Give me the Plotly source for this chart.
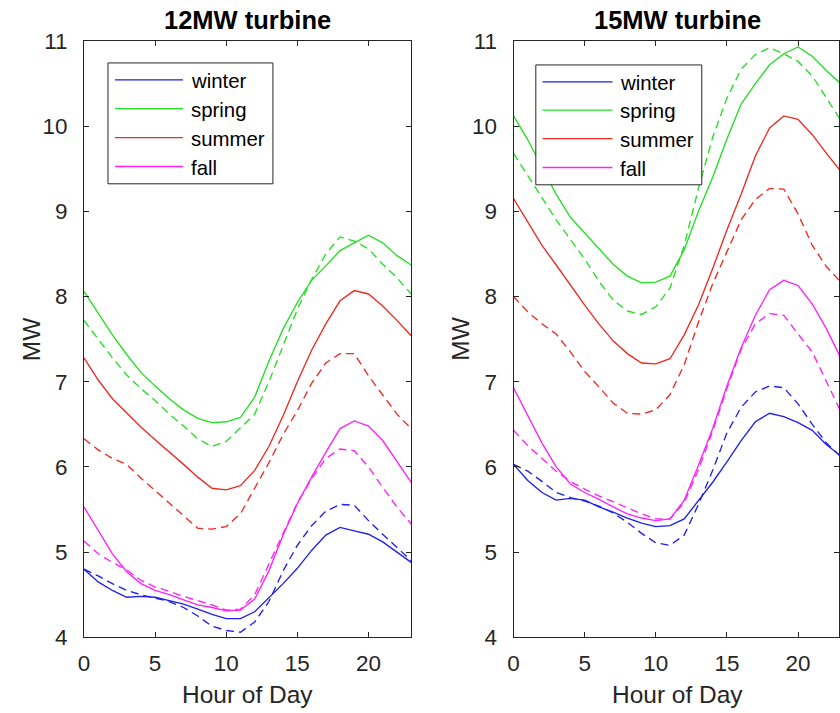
import plotly.graph_objects as go

hours = list(range(24))
seasons = ["winter", "spring", "summer", "fall"]
colors = ["#1f1fee", "#22e022", "#ee2a22", "#ff22ff"]
titles = ["12MW turbine", "15MW turbine"]
x_ticks = [0, 5, 10, 15, 20]
y_ticks = [4, 5, 6, 7, 8, 9, 10, 11]

# 12MW turbine, solid lines
w12_solid = [4.80, 4.65, 4.55, 4.47, 4.48, 4.47, 4.43, 4.39, 4.33, 4.27, 4.22, 4.22,
             4.30, 4.46, 4.63, 4.81, 5.02, 5.20, 5.29, 5.25, 5.21, 5.12, 5.00, 4.88]
sp12_solid = [8.06, 7.80, 7.55, 7.32, 7.11, 6.95, 6.80, 6.67, 6.57, 6.52, 6.53, 6.58,
              6.82, 7.24, 7.62, 7.93, 8.19, 8.36, 8.54, 8.63, 8.72, 8.63, 8.48, 8.37]
su12_solid = [7.28, 7.02, 6.80, 6.63, 6.47, 6.32, 6.18, 6.03, 5.88, 5.75, 5.73, 5.78,
              5.96, 6.24, 6.60, 7.00, 7.37, 7.68, 7.95, 8.07, 8.03, 7.89, 7.72, 7.54]
fa12_solid = [5.53, 5.25, 4.98, 4.77, 4.63, 4.55, 4.50, 4.44, 4.38, 4.35, 4.31, 4.32,
              4.45, 4.78, 5.20, 5.57, 5.88, 6.17, 6.45, 6.54, 6.48, 6.31, 6.06, 5.82]
# 12MW turbine, dashed lines
w12_dash = [4.80, 4.72, 4.63, 4.55, 4.50, 4.46, 4.42, 4.35, 4.25, 4.13, 4.08, 4.06,
            4.18, 4.42, 4.78, 5.08, 5.31, 5.48, 5.56, 5.55, 5.37, 5.21, 5.05, 4.90]
sp12_dash = [7.72, 7.50, 7.28, 7.08, 6.92, 6.78, 6.62, 6.48, 6.33, 6.24, 6.30, 6.46,
             6.62, 7.00, 7.42, 7.85, 8.20, 8.50, 8.70, 8.65, 8.56, 8.38, 8.22, 8.03]
su12_dash = [6.33, 6.20, 6.10, 6.03, 5.87, 5.72, 5.57, 5.42, 5.28, 5.27, 5.30, 5.45,
             5.75, 6.05, 6.38, 6.66, 6.98, 7.22, 7.33, 7.33, 7.07, 6.85, 6.62, 6.45]
fa12_dash = [5.13, 4.98, 4.88, 4.79, 4.67, 4.59, 4.54, 4.48, 4.43, 4.38, 4.32, 4.33,
             4.50, 4.85, 5.22, 5.58, 5.86, 6.10, 6.21, 6.19, 6.00, 5.76, 5.53, 5.33]

# 15MW turbine, solid lines
w15_solid = [6.03, 5.84, 5.70, 5.61, 5.63, 5.61, 5.53, 5.47, 5.40, 5.34, 5.30, 5.31,
             5.39, 5.60, 5.82, 6.06, 6.31, 6.53, 6.63, 6.59, 6.52, 6.43, 6.26, 6.13]
sp15_solid = [10.12, 9.84, 9.52, 9.20, 8.93, 8.75, 8.56, 8.38, 8.24, 8.16, 8.17, 8.24,
              8.55, 9.00, 9.40, 9.85, 10.26, 10.50, 10.72, 10.85, 10.93, 10.82, 10.65, 10.50]
su15_solid = [9.15, 8.87, 8.60, 8.37, 8.13, 7.90, 7.68, 7.48, 7.33, 7.22, 7.21, 7.27,
              7.55, 7.90, 8.33, 8.78, 9.20, 9.65, 9.98, 10.12, 10.08, 9.90, 9.68, 9.47]
fa15_solid = [6.93, 6.60, 6.28, 6.00, 5.80, 5.70, 5.62, 5.53, 5.45, 5.40, 5.37, 5.39,
              5.61, 6.02, 6.45, 6.95, 7.40, 7.78, 8.08, 8.19, 8.13, 7.91, 7.62, 7.28]
# 15MW turbine, dashed lines
w15_dash = [6.03, 5.95, 5.83, 5.70, 5.64, 5.60, 5.54, 5.46, 5.35, 5.22, 5.11, 5.08,
            5.20, 5.56, 5.96, 6.40, 6.70, 6.88, 6.95, 6.93, 6.74, 6.50, 6.28, 6.12]
sp15_dash = [9.68, 9.42, 9.15, 8.90, 8.67, 8.44, 8.18, 7.96, 7.83, 7.79, 7.88, 8.10,
             8.60, 9.27, 9.87, 10.33, 10.67, 10.84, 10.92, 10.85, 10.76, 10.59, 10.33, 10.07]
su15_dash = [8.00, 7.82, 7.68, 7.56, 7.35, 7.12, 6.94, 6.75, 6.63, 6.62, 6.67, 6.85,
             7.20, 7.70, 8.15, 8.52, 8.90, 9.14, 9.27, 9.26, 8.97, 8.60, 8.35, 8.17]
fa15_dash = [6.43, 6.25, 6.10, 5.95, 5.83, 5.74, 5.66, 5.59, 5.52, 5.45, 5.39, 5.39,
             5.58, 5.97, 6.42, 6.92, 7.38, 7.68, 7.80, 7.78, 7.56, 7.35, 7.00, 6.65]

panels = [
    ([w12_solid, sp12_solid, su12_solid, fa12_solid], [w12_dash, sp12_dash, su12_dash, fa12_dash]),
    ([w15_solid, sp15_solid, su15_solid, fa15_solid], [w15_dash, sp15_dash, su15_dash, fa15_dash]),
]

W, H = 840, 713
# the photographed page comes out slightly shrunk; map target screen pixels to figure pixels
SX_OFF, SX_K = 5.0, 0.992
SY_OFF, SY_K = 11.0, 0.966
def fx(sx):
    return min(1.0, ((sx - SX_OFF) / SX_K) / W)
def fy(sy):
    return 1 - ((sy - SY_OFF) / SY_K) / H
FS = 1 / 0.98  # font compensation

FONT = "Liberation Sans, Arial, Helvetica, sans-serif"
INK = "#262626"

fig = go.Figure()
axis_names = [("x", "y"), ("x2", "y2")]
for p, (solids, dashes) in enumerate(panels):
    xa, ya = axis_names[p]
    for s in range(4):
        fig.add_trace(go.Scatter(x=hours, y=solids[s], mode="lines", xaxis=xa, yaxis=ya,
                                 line=dict(color=colors[s], width=1.35), showlegend=False,
                                 name=seasons[s]))
    for s in range(4):
        fig.add_trace(go.Scatter(x=hours, y=dashes[s], mode="lines", xaxis=xa, yaxis=ya,
                                 line=dict(color=colors[s], width=1.35, dash="8px,5px"),
                                 showlegend=False, name=seasons[s]))

# target screen geometry of the two axes boxes
boxes = [(83, 410.3), (512.7, 840)]
top, bottom = 40, 637

def x_range(sx0, sx1):
    # keep the same px-per-hour even if the box is cut by the page edge
    full = (sx1 - SX_OFF) / SX_K / W
    start = fx(sx0)
    end = fx(sx1)
    return [0, 23 * (end - start) / (full - start)]

common_x = dict(tickvals=x_ticks, ticks="inside", ticklen=5, mirror="ticks",
                showline=True, linecolor=INK, linewidth=1, tickcolor=INK, showgrid=False,
                zeroline=False, tickfont=dict(family=FONT, size=22 * FS, color=INK),
                ticklabelstandoff=6)
common_y = dict(range=[4, 11], tickvals=y_ticks, ticks="inside", ticklen=5, mirror="ticks",
                showline=True, linecolor=INK, linewidth=1, tickcolor=INK, showgrid=False,
                zeroline=False, tickfont=dict(family=FONT, size=22 * FS, color=INK),
                ticklabelstandoff=11)

fig.update_layout(
    width=W, height=H, margin=dict(l=0, r=0, t=0, b=0),
    paper_bgcolor="white", plot_bgcolor="white", showlegend=False,
    xaxis=dict(domain=[fx(boxes[0][0]), fx(boxes[0][1])], range=x_range(*boxes[0]), anchor="y", **common_x),
    yaxis=dict(domain=[fy(bottom), fy(top)], anchor="x", **common_y),
    xaxis2=dict(domain=[fx(boxes[1][0]), fx(boxes[1][1])], range=x_range(*boxes[1]), anchor="y2", **common_x),
    yaxis2=dict(domain=[fy(bottom), fy(top)], anchor="x2", **common_y),
)

annotations = []
shapes = []
for p in range(2):
    x0, x1 = boxes[p]
    cx = (x0 + 23 * 14.23 / 2) if p == 1 else (x0 + x1) / 2
    annotations.append(dict(text="<b>" + titles[p] + "</b>", x=fx(cx), y=fy(19.5), xref="paper", yref="paper",
                            showarrow=False, xanchor="center", yanchor="middle",
                            font=dict(family=FONT, size=25 * FS, color="black")))
    annotations.append(dict(text="Hour of Day", x=fx(cx), y=fy(694), xref="paper", yref="paper",
                            showarrow=False, xanchor="center", yanchor="middle",
                            font=dict(family=FONT, size=24 * FS, color=INK)))
    annotations.append(dict(text="MW", x=fx(x0 - 53), y=fy((top + bottom) / 2), xref="paper", yref="paper",
                            showarrow=False, xanchor="center", yanchor="middle", textangle=-90,
                            font=dict(family=FONT, size=24 * FS, color=INK)))

# legends (drawn as boxes, sample lines and text)
legend_boxes = [
    dict(box=(107, 62, 272, 183), line=(114, 182), text_x=188, rows=[79, 107.7, 136.7, 165.7]),
    dict(box=(535, 64, 701, 184), line=(541.7, 611.7), text_x=617.3, rows=[81, 109.3, 137.7, 166.7]),
]
for lg in legend_boxes:
    bx0, by0, bx1, by1 = lg["box"]
    shapes.append(dict(type="rect", xref="paper", yref="paper", x0=fx(bx0), x1=fx(bx1),
                       y0=fy(by1), y1=fy(by0), fillcolor="white",
                       line=dict(color=INK, width=1), layer="above"))
    for s, ry in enumerate(lg["rows"]):
        shapes.append(dict(type="line", xref="paper", yref="paper", x0=fx(lg["line"][0]),
                           x1=fx(lg["line"][1]), y0=fy(ry), y1=fy(ry),
                           line=dict(color=colors[s], width=1.35), layer="above"))
        annotations.append(dict(text=seasons[s], x=fx(lg["text_x"]), y=fy(ry + 1), xref="paper",
                                yref="paper", showarrow=False, xanchor="left", yanchor="middle",
                                font=dict(family=FONT, size=20 * FS, color="black")))

fig.update_layout(annotations=annotations, shapes=shapes)
fig.write_html("out.html")
